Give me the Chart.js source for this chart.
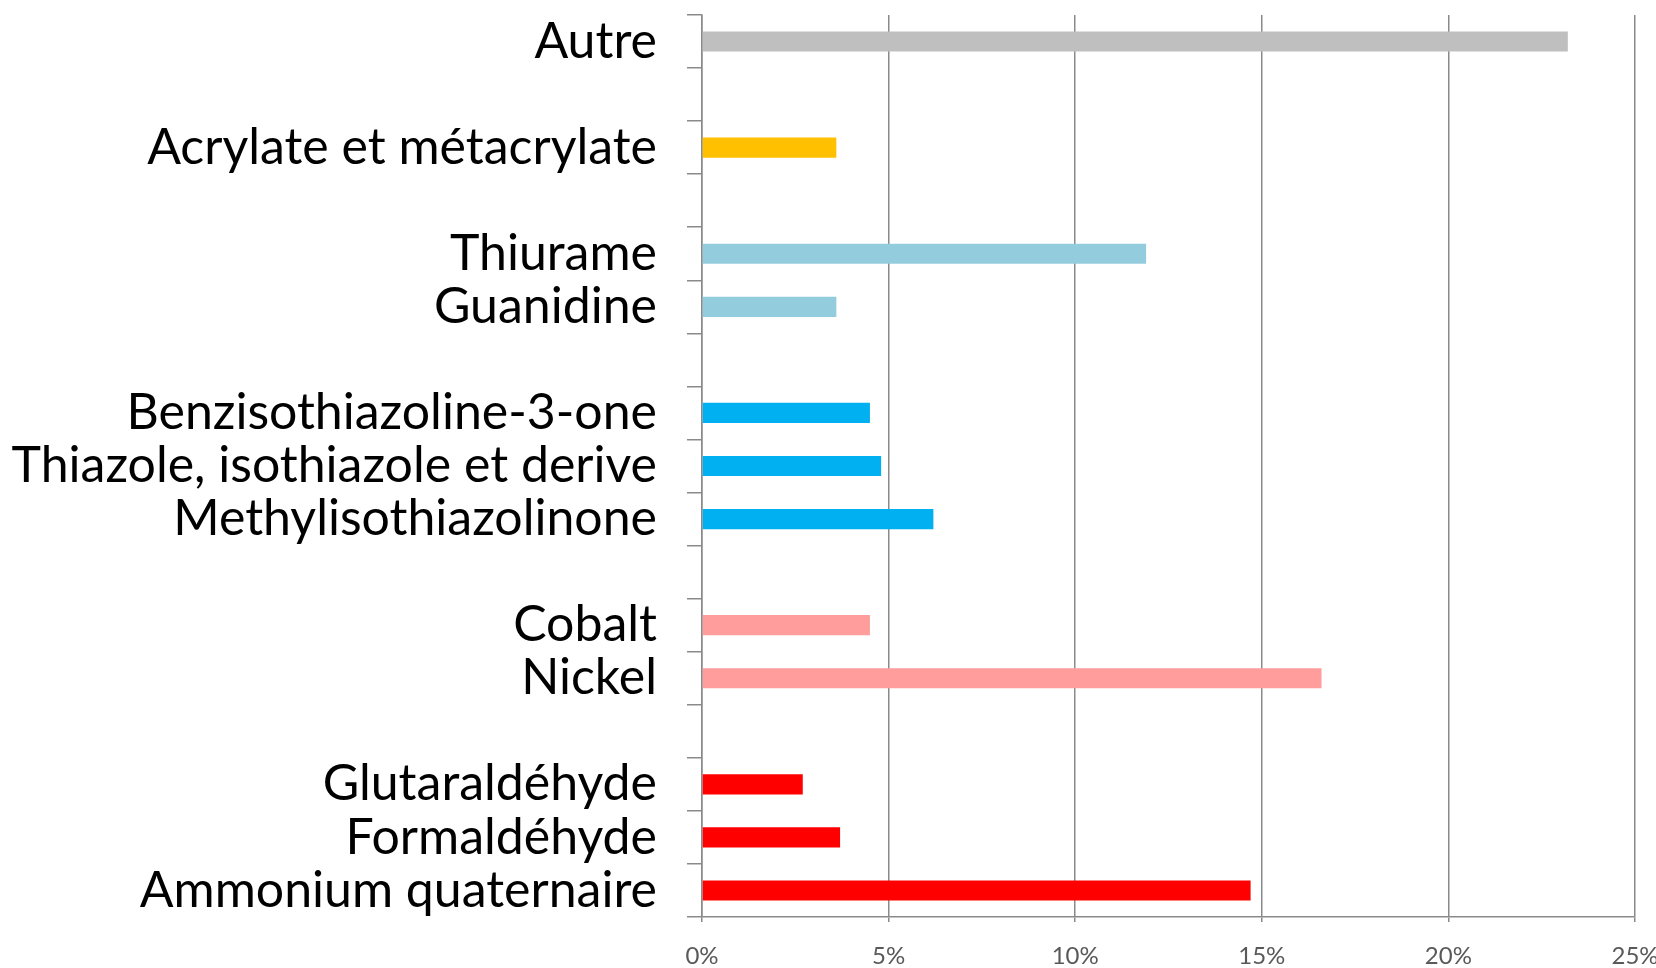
<!DOCTYPE html>
<html>
<head>
<meta charset="utf-8">
<script src="https://cdn.jsdelivr.net/npm/chart.js@4"></script>
<style>
  html, body { margin: 0; padding: 0; background: #fff; }
  #wrap { width: 1656px; height: 968px; }
</style>
</head>
<body>
<div id="wrap"><canvas id="myChart" width="1656" height="968"></canvas></div>
<script>
// categories top to bottom, '' = empty spacer row
const categories = [
    'Autre', '', 'Acrylate et métacrylate', '', 'Thiurame', 'Guanidine', '',
    'Benzisothiazoline-3-one', 'Thiazole, isothiazole et derive', 'Methylisothiazolinone', '',
    'Cobalt', 'Nickel', '', 'Glutaraldéhyde', 'Formaldéhyde', 'Ammonium quaternaire'
];
// percentages
const values = [
    23.2, null, 3.6, null, 11.9, 3.6, null,
    4.5, 4.8, 6.2, null,
    4.5, 16.6, null, 2.7, 3.7, 14.7
];
const barColors = [
    '#bfbfbf', null, '#ffc000', null, '#93cddd', '#93cddd', null,
    '#00b0f0', '#00b0f0', '#00b0f0', null,
    '#ff9d9d', '#ff9d9d', null, '#ff0000', '#ff0000', '#ff0000'
];
const xTicks = [0, 5, 10, 15, 20, 25];

new Chart(document.getElementById("myChart"), {
    type: 'bar',
    data: {
        labels: categories,
        datasets: [{
            data: values,
            backgroundColor: barColors,
            borderWidth: 0,
            barPercentage: 0.38,
            categoryPercentage: 1
        }]
    },
    options: {
        indexAxis: 'y',
        responsive: false,
        animation: false,
        layout: {
            autoPadding: false,
            padding: { top: 15, right: 21, left: 0, bottom: 0 }
        },
        plugins: {
            legend: { display: false },
            tooltip: { enabled: false }
        },
        scales: {
            x: {
                min: 0,
                max: 25,
                afterBuildTicks: (scale) => { scale.ticks = xTicks.map(v => ({ value: v })); },
                afterFit: (scale) => {
                    scale.height = 51;
                    scale.paddingLeft = 0; scale.paddingRight = 0;
                    scale.paddingTop = 0; scale.paddingBottom = 0;
                },
                grid: {
                    color: '#8a8a8a',
                    lineWidth: 1.5,
                    tickLength: 5
                },
                border: { color: '#8a8a8a', width: 1.5 },
                ticks: {
                    padding: 20,
                    color: '#595959',
                    font: { family: 'Lato', size: 24 },
                    callback: (v) => v + '%',
                    maxRotation: 0
                }
            },
            y: {
                afterFit: (scale) => {
                    scale.width = 702;
                    scale.paddingLeft = 0; scale.paddingRight = 0;
                    scale.paddingTop = 0; scale.paddingBottom = 0;
                },
                grid: {
                    drawOnChartArea: false,
                    color: '#8a8a8a',
                    lineWidth: 1.5,
                    tickLength: 15,
                    offset: true
                },
                border: { color: '#8a8a8a', width: 1.5 },
                ticks: {
                    padding: 30,
                    color: '#000000',
                    autoSkip: false,
                    font: { family: 'Lato', size: 50 }
                }
            }
        }
    }
});
</script>
</body>
</html>
